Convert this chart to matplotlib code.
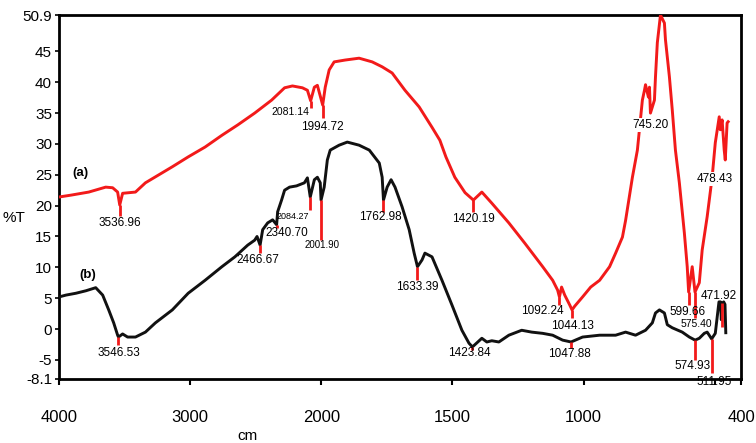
import numpy as np
import matplotlib
matplotlib.use("Agg")
import matplotlib.pyplot as plt

plt.rcParams['font.family'] = ['Liberation Sans', 'DejaVu Sans']

# ---------------- data ----------------
wn_a = [4000, 3909, 3773, 3644, 3591, 3553, 3536.96, 3515, 3417, 3341, 3136, 3015, 2886, 2758,
        2636, 2508, 2379, 2280, 2220, 2144, 2106, 2081.14, 2053, 2030, 1994.72, 1985, 1970,
        1951, 1909, 1856, 1806, 1768, 1730, 1681, 1627, 1578, 1548, 1525, 1491, 1452, 1420.19,
        1388, 1350, 1285, 1224, 1156, 1118, 1099, 1092.24, 1084, 1072, 1053, 1044.13, 1034,
        1004, 973, 939, 901, 878, 852, 840, 814, 795, 776, 768, 764, 753, 749, 745.20, 730, 726,
        719, 707, 692, 688, 673, 662, 650, 635, 616, 605, 599.66, 586, 575.40, 559, 548, 529,
        510, 498, 483, 479, 472, 464, 460, 453, 449]
t_a = [21.4, 21.7, 22.2, 23.0, 22.9, 22.2, 20.1, 22.0, 22.2, 23.7, 26.3, 27.9, 29.5, 31.4,
       33.1, 35.0, 37.1, 39.1, 39.4, 39.1, 38.7, 37.0, 39.2, 39.5, 36.3, 39.2, 42.0,
       43.3, 43.6, 43.9, 43.3, 42.5, 41.5, 38.7, 36.0, 32.7, 30.6, 27.9, 24.6, 22.1, 20.9,
       22.2, 20.4, 17.2, 13.9, 10.1, 7.9, 6.3, 5.2, 6.8, 5.5, 3.9, 3.1, 3.7,
       5.2, 6.8, 7.9, 10.1, 12.3, 14.9, 17.6, 24.6, 29.0, 37.1, 38.7, 39.6, 37.6, 39.2, 35.0, 37.1, 40.9,
       46.4, 50.9, 49.6, 46.9, 40.9, 35.5, 29.0, 23.7, 15.6, 10.1, 6.0, 10.1, 6.0, 7.5, 12.8, 18.2,
       24.6, 30.2, 34.4, 32.3, 33.9, 29.0, 27.4, 33.4, 33.6]

wn_b = [4000, 3947, 3871, 3795, 3720, 3667, 3621, 3583, 3553, 3546.53, 3515, 3477, 3417, 3341,
        3265, 3136, 3015, 2886, 2758, 2659, 2561, 2508, 2490, 2466.67, 2447, 2409, 2371, 2340.70,
        2333, 2303, 2280, 2242, 2189, 2129, 2106, 2084.27, 2053, 2030, 2008, 2001.90, 1989, 1977,
        1966, 1932, 1901, 1856, 1817, 1779, 1768, 1762.98, 1749, 1734, 1719, 1692, 1665, 1646,
        1633.39, 1616, 1605, 1578, 1540, 1502, 1464, 1437, 1423.84, 1388, 1369, 1350, 1323, 1285,
        1236, 1198, 1156, 1118, 1080, 1047.88, 1004, 939, 878, 840, 802, 764, 738, 726, 711, 692,
        681, 662, 624, 597, 574.93, 559, 540, 529, 511.95, 498, 484, 478, 475, 471.92, 466, 461, 458]
t_b = [5.2, 5.5, 5.8, 6.2, 6.7, 5.5, 3.1, 1.0, -1.0, -1.3, -0.8, -1.3, -1.3, -0.5,
       1.0, 3.1, 5.8, 7.9, 10.1, 11.7, 13.6, 14.4, 15.0, 13.6, 16.1, 17.2, 17.7, 16.9,
       19.0, 20.9, 22.5, 23.0, 23.2, 23.7, 24.5, 21.4, 24.2, 24.6, 23.7, 20.9, 23.0, 27.4,
       29.0, 29.8, 30.3, 29.8, 29.0, 26.9, 24.6, 20.9, 23.0, 24.2, 23.0, 19.8, 16.1, 12.3,
       10.1, 11.2, 12.3, 11.7, 7.9, 3.9, -0.2, -2.3, -2.9, -1.5, -2.1, -1.9, -2.1, -1.0,
       -0.2, -0.5, -0.7, -1.0, -1.8, -2.1, -1.3, -1.0, -1.0, -0.5, -1.0, -0.2, 1.0, 2.6, 3.1, 2.6,
       0.7, 0.2, -0.5, -1.3, -1.8, -1.5, -0.7, -0.5, -1.6, -0.7, 4.4, 4.4, 1.5, 4.2, 4.4, 4.0, -0.6]

peaks_a = [3536.96, 2081.14, 1994.72, 1420.19, 1092.24, 1044.13, 745.20, 599.66, 575.40, 478.43]
peaks_b = [3546.53, 2466.67, 2340.70, 2084.27, 2001.90, 1762.98, 1633.39, 1423.84, 1047.88,
           574.93, 511.95, 471.92]

xticks = [4000, 3000, 2000, 1500, 1000, 500, 400]
xticklabels = ['4000', '3000', '2000', '1500', '1000', '', '400']
yticks = [50.9, 45, 40, 35, 30, 25, 20, 15, 10, 5, 0, -5, -8.1]
yticklabels = ['50.9', '45', '40', '35', '30', '25', '20', '15', '10', '5', '0', '-5', '-8.1']

# ---------------- layout of peak labels ----------------
# (label x, label y, ha, fontsize, marker bottom or None, white box)
lab_a = {
    3536.96: (3537, 17.2, 'center', 8.5, 18.4, False),
    2081.14: (2092, 35.2, 'right', 7.5, 35.8, False),
    1994.72: (1996, 32.7, 'center', 8.5, 34.2, False),
    1420.19: (1420, 17.8, 'center', 8.5, 19.0, False),
    1092.24: (1075, 2.9, 'right', 8.5, 3.9, False),
    1044.13: (1044, 0.5, 'center', 8.5, 1.8, False),
    745.20: (745, 33.1, 'center', 8.5, None, True),
    599.66: (604, 2.7, 'center', 8.5, 3.9, False),
    575.40: (570, 0.8, 'center', 7.5, 1.8, False),
    478.43: (500, 24.3, 'center', 8.5, None, True),
}
lab_b = {
    3546.53: (3546.53, -3.9, 'center', 8.5, -2.6),
    2466.67: (2480, 11.2, 'center', 8.5, 12.3),
    2340.70: (2265, 15.6, 'center', 8.5, 16.4),
    2084.27: (2092, 18.2, 'right', 6.5, 19.3),
    2001.90: (1996, 13.6, 'center', 7.0, 14.4),
    1762.98: (1776, 18.2, 'center', 8.5, 19.0),
    1633.39: (1635, 6.8, 'center', 8.5, 7.9),
    1423.84: (1437, -3.9, 'center', 8.5, -3.4),
    1047.88: (1053, -4.1, 'center', 8.5, -3.0),
    574.93: (585, -6.0, 'center', 8.5, -5.0),
    511.95: (502, -8.6, 'center', 8.5, -7.1),
    471.92: (483, 5.4, 'center', 8.5, 0.4),
}

RED = '#f21a1a'
BLK = '#111111'

fig = plt.figure(figsize=(7.56, 4.43), dpi=100)
ax = fig.add_axes([59 / 756, 1 - 379 / 443, 682 / 756, 364 / 443])


def fwd(x):
    x = np.asarray(x, float)
    return np.where(x <= 2000, x, 2000 + (x - 2000) / 2)


def inv(u):
    u = np.asarray(u, float)
    return np.where(u <= 2000, u, 2000 + (u - 2000) * 2)


ax.set_xscale('function', functions=(fwd, inv))
ax.set_xlim(4000, 400)
ax.set_ylim(-8.1, 50.9)

ax.plot(wn_a, t_a, color=RED, lw=2.1, solid_joinstyle='round', zorder=3)
ax.plot(wn_b, t_b, color=BLK, lw=2.1, solid_joinstyle='round', zorder=3)

xa = np.array(wn_a)[::-1]; ya = np.array(t_a)[::-1]
xb = np.array(wn_b)[::-1]; yb = np.array(t_b)[::-1]

for p in peaks_a:
    lx, ly, ha, fs, mb, box = lab_a[p]
    v = np.interp(p, xa, ya)
    if mb is not None:
        ax.plot([p, p], [v, mb], color=RED, lw=2.0, zorder=4, solid_capstyle='butt')
    kw = {}
    if box:
        kw['bbox'] = dict(facecolor='white', edgecolor='none', pad=0.5)
    ax.text(lx, ly, f"{p:.2f}", ha=ha, va='center', fontsize=fs, color='black',
            zorder=5, clip_on=False, **kw)

for p in peaks_b:
    lx, ly, ha, fs, mb = lab_b[p]
    v = np.interp(p, xb, yb)
    ax.plot([p, p], [v, mb], color=RED, lw=2.0, zorder=4, solid_capstyle='butt')
    ax.text(lx, ly, f"{p:.2f}", ha=ha, va='center', fontsize=fs, color='black',
            zorder=5, clip_on=False)

ax.text(3833, 25.3, '(a)', ha='center', va='center', fontsize=9.5, fontweight='bold')
ax.text(3780, 8.75, '(b)', ha='center', va='center', fontsize=9.5, fontweight='bold')

ax.set_xticks(xticks)
ax.set_xticklabels(xticklabels)
ax.set_yticks(yticks)
ax.set_yticklabels(yticklabels)
ax.tick_params(axis='x', direction='out', length=4, width=1.5, labelsize=12, pad=18)
ax.tick_params(axis='y', direction='out', length=3, width=1.2, labelsize=11, pad=2)
ax.xaxis.set_minor_locator(matplotlib.ticker.NullLocator())
ax.yaxis.set_minor_locator(matplotlib.ticker.NullLocator())
for s in ax.spines.values():
    s.set_linewidth(2.0)

fig.text(14 / 756, 1 - 218 / 443, '%T', ha='center', va='center', fontsize=11)
fig.text(248 / 756, 1 - 436 / 443, 'cm', ha='center', va='center', fontsize=11)

fig.savefig('out.png', dpi=100)
